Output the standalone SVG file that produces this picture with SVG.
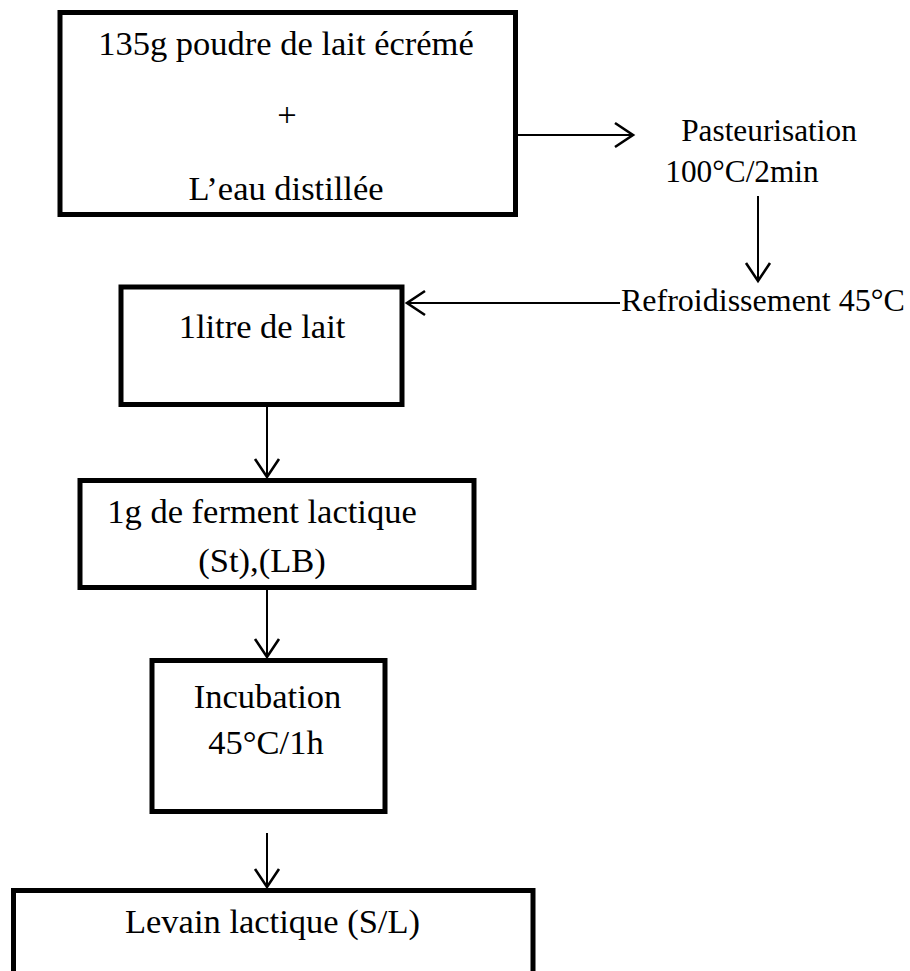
<svg xmlns="http://www.w3.org/2000/svg" width="910" height="971" viewBox="0 0 910 971">
  <style>
    .box { fill: #ffffff; stroke: #000000; stroke-width: 5; }
    .bt { font-family: "Liberation Serif", "Times New Roman", serif; font-size: 34.5px; fill: #000000; text-anchor: middle; }
    .ft { font-family: "Liberation Serif", "Times New Roman", serif; font-size: 31.3px; fill: #000000; }
    .conn { stroke: #000000; stroke-width: 2; fill: none; marker-end: url(#arrow); }
  </style>
  <defs>
    <marker id="arrow" viewBox="-22 -16 26 32" refX="0" refY="0" markerWidth="26" markerHeight="32" markerUnits="userSpaceOnUse" orient="auto" overflow="visible">
      <path d="M -18 -12 L 0 0 L -18 12" fill="none" stroke="#000000" stroke-width="2.6"/>
    </marker>
  </defs>
  <rect width="910" height="971" fill="#ffffff"/>

  <g id="connectors">
    <line class="conn" x1="518" y1="135" x2="633" y2="135"/>
    <line class="conn" x1="758" y1="196" x2="758" y2="281"/>
    <line class="conn" x1="620" y1="303" x2="407" y2="303"/>
    <line class="conn" x1="267" y1="406" x2="267" y2="477"/>
    <line class="conn" x1="267" y1="575" x2="267" y2="657"/>
    <line class="conn" x1="267" y1="833" x2="267" y2="887"/>
  </g>

  <g id="node-melange">
    <rect class="box" x="60" y="12.5" width="455.5" height="202"/>
    <text class="bt" x="286" y="55">135g poudre de lait écrémé</text>
    <text class="bt" x="287" y="126">+</text>
    <text class="bt" x="286" y="200">L’eau distillée</text>
  </g>

  <g id="node-pasteurisation">
    <text class="ft" x="769" y="141" text-anchor="middle">Pasteurisation</text>
    <text class="ft" x="742" y="182" text-anchor="middle">100°C/2min</text>
  </g>

  <g id="node-refroidissement">
    <text class="ft" x="621" y="311" style="font-size:32px">Refroidissement 45°C</text>
  </g>

  <g id="node-lait">
    <rect class="box" x="121" y="287" width="281" height="117.5"/>
    <text class="bt" x="262" y="338">1litre de lait</text>
  </g>

  <g id="node-ferment">
    <rect class="box" x="80" y="480.5" width="394" height="107"/>
    <text class="bt" x="262" y="523">1g de ferment lactique</text>
    <text class="bt" x="262" y="572">(St),(LB)</text>
  </g>

  <g id="node-incubation">
    <rect class="box" x="152" y="660.5" width="233" height="151"/>
    <text class="bt" x="267.5" y="708">Incubation</text>
    <text class="bt" x="266" y="754">45°C/1h</text>
  </g>

  <g id="node-levain">
    <rect class="box" x="13.5" y="890.5" width="519.5" height="120"/>
    <text class="bt" x="272.5" y="933">Levain lactique (S/L)</text>
  </g>
</svg>
